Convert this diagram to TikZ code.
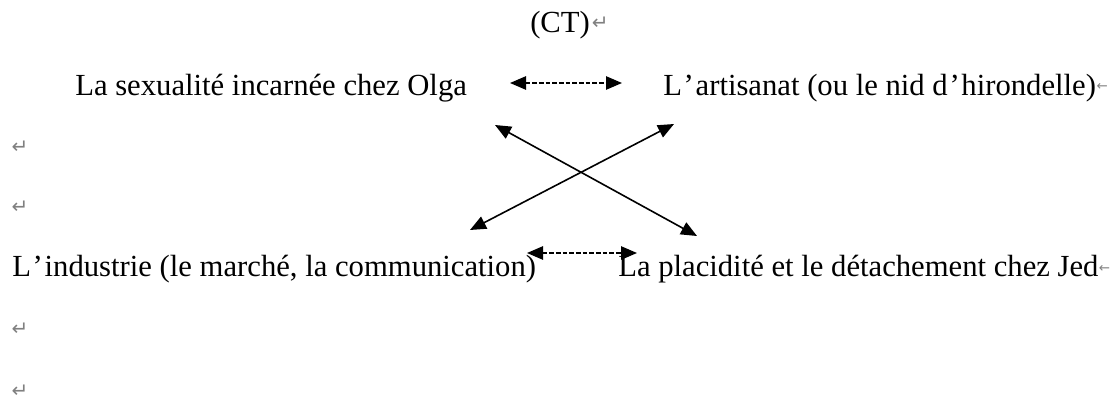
\documentclass[tikz,border=0pt]{standalone}
\usepackage{fontspec}
\setmainfont{Liberation Serif}
\newfontfamily\markfont{DejaVu Sans}
\usetikzlibrary{arrows.meta}

\begin{document}
\begin{tikzpicture}[x=0.75pt, y=-0.75pt]
		% Define styles
		\tikzstyle{theme}=[inner sep=0pt, anchor=base west, font=\fontsize{23}{28}\selectfont]
		\tikzstyle{para mark}=[inner sep=0pt, text=gray, font=\markfont\fontsize{15}{16}\selectfont]
		\tikzstyle{line mark}=[inner sep=0pt, anchor=base west, text=gray, font=\markfont\fontsize{10}{11}\selectfont]
		\tikzstyle{link}=[draw, line width=1.2pt, {Triangle[length=12pt,width=10pt]}-{Triangle[length=12pt,width=10pt]}]
		\tikzstyle{mirror link}=[link, dash pattern=on 3.5pt off 1.5pt]
		
		\useasboundingbox (0,0) rectangle (1117,403);
		
		% Title
		\node[theme] (ct) at (530,33) {(CT)};
		\node[para mark, anchor=west] (ctmark) at ([xshift=1pt,yshift=7pt]ct.base east) {↵};
		
		% Four poles
		\node[theme] (olga) at (75,95) {La sexualité incarnée chez Olga};
		\node[theme] (artisanat) at (663,95) {L\kern1.3pt’\kern1.3pt artisanat (ou le nid d\kern1.3pt’\kern1.3pt hirondelle)};
		\node[line mark] (artmark) at ([yshift=3pt]artisanat.base east) {←};
		\node[theme] (industrie) at (12,276) {L\kern1.3pt’\kern1.3pt industrie (le marché, la communication)};
		\node[theme] (jed) at (618,276) {La placidité et le détachement chez Jed};
		\node[line mark] (jedmark) at ([yshift=3pt]jed.base east) {←};
		
		% Empty paragraphs
		\node[para mark] (blank1) at (20,147) {↵};
		\node[para mark] (blank2) at (20,207) {↵};
		\node[para mark] (blank3) at (20,329) {↵};
		\node[para mark] (blank4) at (20,391) {↵};
		
		% Arrow ends
		\coordinate (olga-tip) at (510,83);
		\coordinate (art-tip) at (622,83);
		\coordinate (ind-tip) at (527,253);
		\coordinate (jed-tip) at (637,253);
		\coordinate (olga-low) at (495,125);
		\coordinate (jed-high) at (697,236);
		\coordinate (art-low) at (674,124);
		\coordinate (ind-high) at (470,230);
		
		% Mirror relations
		\draw[mirror link] (olga-tip) -- (art-tip);
		\draw[mirror link] (ind-tip) -- (jed-tip);
		
		% Crossed relations
		\draw[link] (olga-low) -- (jed-high);
		\draw[link] (art-low) -- (ind-high);
		
	\end{tikzpicture}
\end{document}
